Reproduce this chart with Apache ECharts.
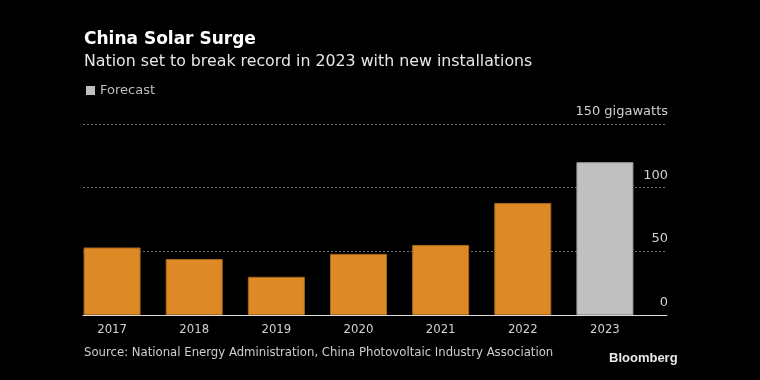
<!DOCTYPE html>
<html>
<head>
<meta charset="utf-8">
<script src="https://cdn.jsdelivr.net/npm/echarts@6/dist/echarts.min.js"></script>
<style>
html,body{margin:0;padding:0;background:#000;}
#chart{width:760px;height:380px;}
</style>
</head>
<body>
<div id="chart"></div>
<script>
const years = ['2017', '2018', '2019', '2020', '2021', '2022', '2023'];
const installs = [53, 44, 30, 48, 55, 88, 120];
const isForecast = [false, false, false, false, false, false, true];
const yTicks = [0, 50, 100, 150];
const yUnit = 'gigawatts';

const actualData = installs.map((v, i) => isForecast[i] ? '-' : v);
const forecastData = installs.map((v, i) => isForecast[i] ? v : '-');

const chart = echarts.init(document.getElementById('chart'));
const sans = 'DejaVu Sans';
const cond = 'DejaVu Sans Condensed';

chart.setOption({
  backgroundColor: '#000',
  animation: false,
  title: {
    text: 'China Solar Surge',
    subtext: 'Nation set to break record in 2023 with new installations',
    left: 84, top: 31, padding: 0, itemGap: 6,
    textStyle: { color: '#fff', fontFamily: sans, fontWeight: 'bold', fontSize: 17 },
    subtextStyle: { color: '#e6e6e6', fontFamily: sans, fontSize: 15.8 }
  },
  legend: {
    data: ['Forecast'],
    left: 86, top: 84, padding: 0,
    icon: 'rect', itemWidth: 9, itemHeight: 9, itemGap: 5,
    itemStyle: { borderWidth: 0 },
    textStyle: { color: '#bdbdbd', fontFamily: sans, fontSize: 13, padding: [0,0,0,0] }
  },
  grid: [
    { left: 83, right: 93, top: 124, bottom: 65 },
    { left: 71, width: 575, top: 124, bottom: 65 }
  ],
  xAxis: [
    { type: 'value', gridIndex: 0, min: 0, max: 1, show: true,
      axisLine: { show: true, onZero: false, lineStyle: { color: '#dcdcdc', width: 1 } },
      axisTick: { show: false }, axisLabel: { show: false }, splitLine: { show: false } },
    { type: 'category', gridIndex: 1, data: years,
      axisLine: { show: false }, axisTick: { show: false },
      axisLabel: { color: '#d0d0d0', fontFamily: cond, fontSize: 13, margin: 8 } }
  ],
  yAxis: [
    { type: 'value', gridIndex: 0, position: 'right', min: 0, max: 150, interval: 50,
      axisLine: { show: false }, axisTick: { show: false },
      splitLine: { show: true, lineStyle: { color: '#707070', type: [2, 2], width: 1 } },
      axisLabel: { inside: true, margin: -1, color: '#d0d0d0', fontFamily: sans, fontSize: 13,
        verticalAlign: 'bottom', padding: [0, 0, 6, 0],
        formatter: v => yTicks.indexOf(v) === yTicks.length - 1 ? v + ' ' + yUnit : String(v) } },
    { type: 'value', gridIndex: 1, min: 0, max: 150, show: false, splitLine: { show: false } }
  ],
  series: [
    { name: 'Actual', type: 'bar', xAxisIndex: 1, yAxisIndex: 1, stack: 'a', barWidth: 57,
      data: actualData,
      itemStyle: { color: '#dd8a26', borderColor: '#a8671c', borderWidth: 1 } },
    { name: 'Forecast', type: 'bar', xAxisIndex: 1, yAxisIndex: 1, stack: 'a', barWidth: 57,
      data: forecastData,
      itemStyle: { color: '#c0c0c0', borderColor: '#9a9a9a', borderWidth: 1 } }
  ],
  graphic: [
    { type: 'text', left: 84, top: 346,
      style: { text: 'Source: National Energy Administration, China Photovoltaic Industry Association',
        fill: '#cfcfcf', font: '13px "DejaVu Sans Condensed"' } },
    { type: 'text', left: 609, top: 352,
      style: { text: 'Bloomberg', fill: '#e8e8e8', font: 'bold 13px "Liberation Sans"' } }
  ]
});
</script>
</body>
</html>
